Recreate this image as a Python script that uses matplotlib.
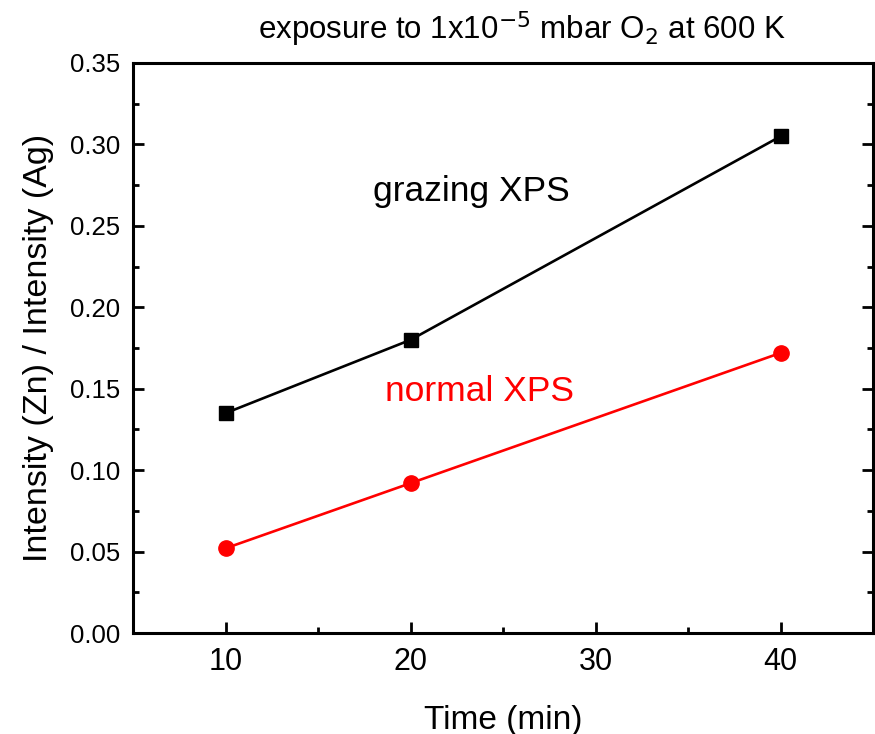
import matplotlib.pyplot as plt

plt.rcParams['font.family'] = ['Liberation Sans', 'DejaVu Sans']

# data
time = [10, 20, 40]
grazing = [0.135, 0.180, 0.305]
normal = [0.052, 0.092, 0.172]

fig = plt.figure(figsize=(8.75, 7.34), dpi=100)
ax = fig.add_axes([0.152, 0.1376, 0.846, 0.7766])

ax.plot(time, grazing, color='black', lw=1.9, marker='s', ms=10)
ax.plot(time, normal, color='red', lw=1.9, marker='o', ms=11)

ax.set_xlim(5, 45)
ax.set_ylim(0, 0.35)
ax.set_xticks([10, 20, 30, 40])
ax.set_xticks([15, 25, 35], minor=True)
ax.set_yticks([0.0, 0.05, 0.10, 0.15, 0.20, 0.25, 0.30, 0.35])
ax.set_yticks([0.025, 0.075, 0.125, 0.175, 0.225, 0.275, 0.325], minor=True)
ax.yaxis.set_major_formatter(plt.FormatStrFormatter('%.2f'))

ax.tick_params(which='both', direction='in', right=True, top=False, width=2)
ax.tick_params(axis='x', labelsize=22, pad=10)
ax.tick_params(axis='y', labelsize=18.5, pad=9)
ax.tick_params(which='major', length=8)
ax.tick_params(which='minor', length=4)
for s in ax.spines.values():
    s.set_linewidth(2.2)

ax.set_xlabel('Time (min)', fontsize=24, labelpad=20)
ax.set_ylabel('Intensity (Zn) / Intensity (Ag)', fontsize=24.5, labelpad=12)
ax.set_title(r'exposure to 1x10$^{-5}$ mbar O$_2$ at 600 K', fontsize=22.5,
             x=0.525, pad=17)

ax.text(23.3, 0.271, 'grazing XPS', fontsize=25.5, ha='center', va='center')
ax.text(23.7, 0.148, 'normal XPS', fontsize=25.5, ha='center', va='center', color='red')

fig.savefig('out.png', dpi=100)
